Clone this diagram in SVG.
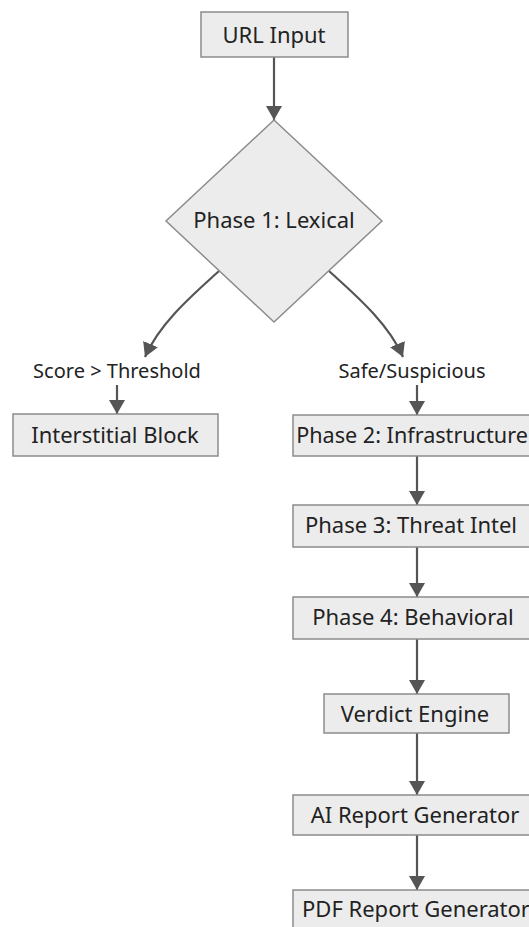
<svg xmlns="http://www.w3.org/2000/svg" width="529" height="927" viewBox="0 0 529 927">
<defs>
<style>
.box{fill:#ececec;stroke:#8c8c8c;stroke-width:1.5}
.lbl{font-family:"Noto Sans","Open Sans","DejaVu Sans",sans-serif;font-size:22px;fill:#222;text-anchor:middle}
.edge{fill:none;stroke:#555;stroke-width:2.2}
.elbl{font-family:"Noto Sans","Open Sans","DejaVu Sans",sans-serif;font-size:20px;fill:#222;text-anchor:middle}
</style>
<marker id="ah" markerUnits="userSpaceOnUse" markerWidth="16" markerHeight="18" refX="14" refY="8" orient="auto" viewBox="0 0 16 16">
<path d="M0,0 L14,8 L0,16 z" fill="#555"/>
</marker>
</defs>
<rect width="529" height="927" fill="#ffffff"/>
<g id="edges">
<path class="edge" d="M274,57 L274,120" marker-end="url(#ah)"/>
<path class="edge" d="M219,271 C196,292 160,322 145,357" marker-end="url(#ah)"/>
<path class="edge" d="M329,271 C352,292 388,322 403,357" marker-end="url(#ah)"/>
<path class="edge" d="M117,385 L117,414" marker-end="url(#ah)"/>
<path class="edge" d="M417,385 L417,415" marker-end="url(#ah)"/>
<path class="edge" d="M417,456 L417,505" marker-end="url(#ah)"/>
<path class="edge" d="M417,547 L417,597" marker-end="url(#ah)"/>
<path class="edge" d="M417,639 L417,694" marker-end="url(#ah)"/>
<path class="edge" d="M417,733 L417,795" marker-end="url(#ah)"/>
<path class="edge" d="M417,835 L417,890" marker-end="url(#ah)"/>
<text class="elbl" x="117" y="378">Score &gt; Threshold</text>
<text class="elbl" x="412" y="378">Safe/Suspicious</text>
</g>
<g id="url-input">
<rect class="box" x="201" y="12" width="147" height="45"/>
<text class="lbl" x="274" y="43">URL Input</text>
</g>
<g id="phase1">
<path class="box" d="M274,120 L382,221 L274,322 L166,221 Z"/>
<text class="lbl" x="274" y="228">Phase 1: Lexical</text>
</g>
<g id="interstitial">
<rect class="box" x="13" y="414" width="205" height="42"/>
<text class="lbl" x="115" y="443">Interstitial Block</text>
</g>
<g id="phase2">
<rect class="box" x="293" y="415" width="248" height="41"/>
<text class="lbl" x="412" y="443" style="font-size:21.6px">Phase 2: Infrastructure</text>
</g>
<g id="phase3">
<rect class="box" x="293" y="505" width="248" height="42"/>
<text class="lbl" x="411" y="533">Phase 3: Threat Intel</text>
</g>
<g id="phase4">
<rect class="box" x="293" y="597" width="248" height="42"/>
<text class="lbl" x="413" y="625">Phase 4: Behavioral</text>
</g>
<g id="verdict">
<rect class="box" x="324" y="694" width="185" height="39"/>
<text class="lbl" x="415" y="722">Verdict Engine</text>
</g>
<g id="ai-report">
<rect class="box" x="293" y="795" width="248" height="40"/>
<text class="lbl" x="415" y="823">AI Report Generator</text>
</g>
<g id="pdf-report">
<rect class="box" x="293" y="890" width="248" height="42"/>
<text class="lbl" x="416" y="917">PDF Report Generator</text>
</g>
</svg>
